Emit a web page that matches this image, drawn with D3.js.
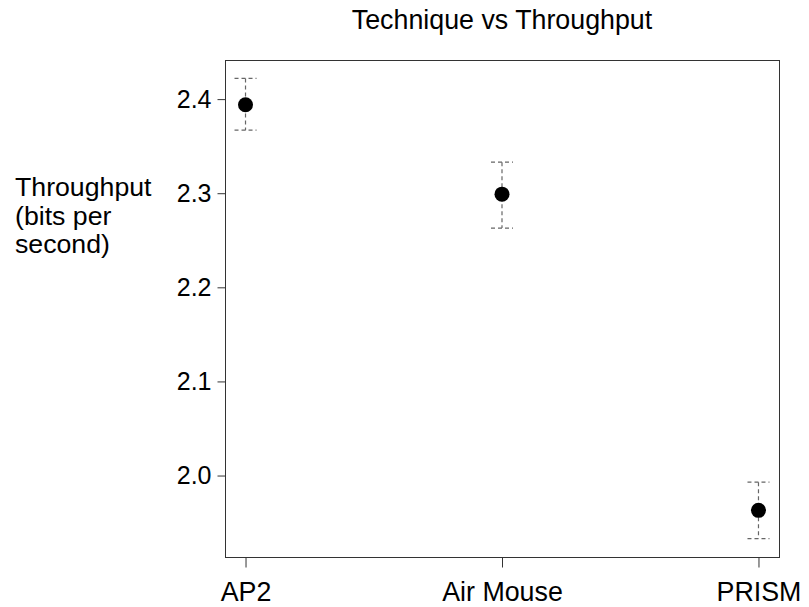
<!DOCTYPE html>
<html>
<head>
<meta charset="utf-8">
<script src="https://cdn.jsdelivr.net/npm/d3@7"></script>
<style>
  html, body { margin: 0; padding: 0; background: #fff; }
  svg text { font-family: "Liberation Sans", Arial, Helvetica, sans-serif; fill: #000; }
</style>
</head>
<body>
<svg id="chart" width="809" height="607"></svg>
<script>
// Mean throughput per technique with 95% confidence interval bounds
const techniques = ["AP2", "Air Mouse", "PRISM"];
const meanThroughput = [2.394, 2.299, 1.963];
const lowerCI = [2.367, 2.263, 1.933];
const upperCI = [2.422, 2.333, 1.993];
const yTicks = [2.0, 2.1, 2.2, 2.3, 2.4];
const yLabelLines = ["Throughput", "(bits per", "second)"];
const titleText = "Technique vs Throughput";

const svg = d3.select("#chart");
const plot = { left: 225, right: 779, top: 60, bottom: 557 };

// Pad the data range by 4% on each side, as base graphics does
const lo = d3.min(lowerCI), hi = d3.max(upperCI);
const pad = (hi - lo) * 0.04;
const y = d3.scaleLinear().domain([lo - pad, hi + pad]).range([plot.bottom, plot.top]);
const x = d3.scalePoint().domain(techniques).range([plot.left, plot.right]).padding(0.08);

const rows = techniques.map((t, i) => ({ t, m: meanThroughput[i], lo: lowerCI[i], hi: upperCI[i] }));

// Plot frame
svg.append("rect")
  .attr("x", plot.left + 0.5).attr("y", plot.top + 0.5)
  .attr("width", plot.right - plot.left).attr("height", plot.bottom - plot.top)
  .attr("fill", "none").attr("stroke", "#333").attr("stroke-width", 1);

// Y axis
const yAxis = svg.append("g")
  .attr("transform", `translate(${plot.left + 0.5},0)`)
  .call(d3.axisLeft(y).tickValues(yTicks).tickFormat(d3.format(".1f")).tickSize(8).tickPadding(6));
yAxis.select(".domain").remove();
yAxis.selectAll(".tick line").attr("stroke", "#333");
yAxis.selectAll(".tick text").attr("font-size", 25).style("font-family", "Liberation Sans, Arial, sans-serif").attr("fill", "#000");

// X axis
const xAxis = svg.append("g")
  .attr("transform", `translate(0,${plot.bottom + 0.5})`)
  .call(d3.axisBottom(x).tickSize(10).tickPadding(14));
xAxis.select(".domain").remove();
xAxis.selectAll(".tick line").attr("stroke", "#333");
xAxis.selectAll(".tick text").attr("font-size", 26.8).style("font-family", "Liberation Sans, Arial, sans-serif").attr("fill", "#000");

// Confidence interval whiskers and caps
const capHalf = 11;
const bars = svg.append("g").attr("stroke", "#666").attr("stroke-width", 1.2).attr("stroke-dasharray", "4,3").attr("fill", "none");
bars.selectAll("line.whisker").data(rows).join("line")
  .attr("class", "whisker")
  .attr("x1", d => x(d.t)).attr("x2", d => x(d.t))
  .attr("y1", d => y(d.hi)).attr("y2", d => y(d.lo));
bars.selectAll("line.capTop").data(rows).join("line")
  .attr("class", "capTop")
  .attr("x1", d => x(d.t) - capHalf).attr("x2", d => x(d.t) + capHalf)
  .attr("y1", d => y(d.hi)).attr("y2", d => y(d.hi));
bars.selectAll("line.capBot").data(rows).join("line")
  .attr("class", "capBot")
  .attr("x1", d => x(d.t) - capHalf).attr("x2", d => x(d.t) + capHalf)
  .attr("y1", d => y(d.lo)).attr("y2", d => y(d.lo));

// Mean points
svg.append("g").selectAll("circle").data(rows).join("circle")
  .attr("cx", d => x(d.t)).attr("cy", d => y(d.m)).attr("r", 7.5)
  .attr("fill", "#000");

// Title
svg.append("text")
  .attr("x", (plot.left + plot.right) / 2).attr("y", 29)
  .attr("text-anchor", "middle").attr("font-size", 26.8)
  .text(titleText);

// Y axis label, three left-aligned lines
svg.append("text")
  .attr("x", 15).attr("y", 196)
  .attr("font-size", 26.7)
  .selectAll("tspan").data(yLabelLines).join("tspan")
  .attr("x", 15).attr("dy", (d, i) => i === 0 ? 0 : 28.5)
  .text(d => d);
</script>
</body>
</html>
